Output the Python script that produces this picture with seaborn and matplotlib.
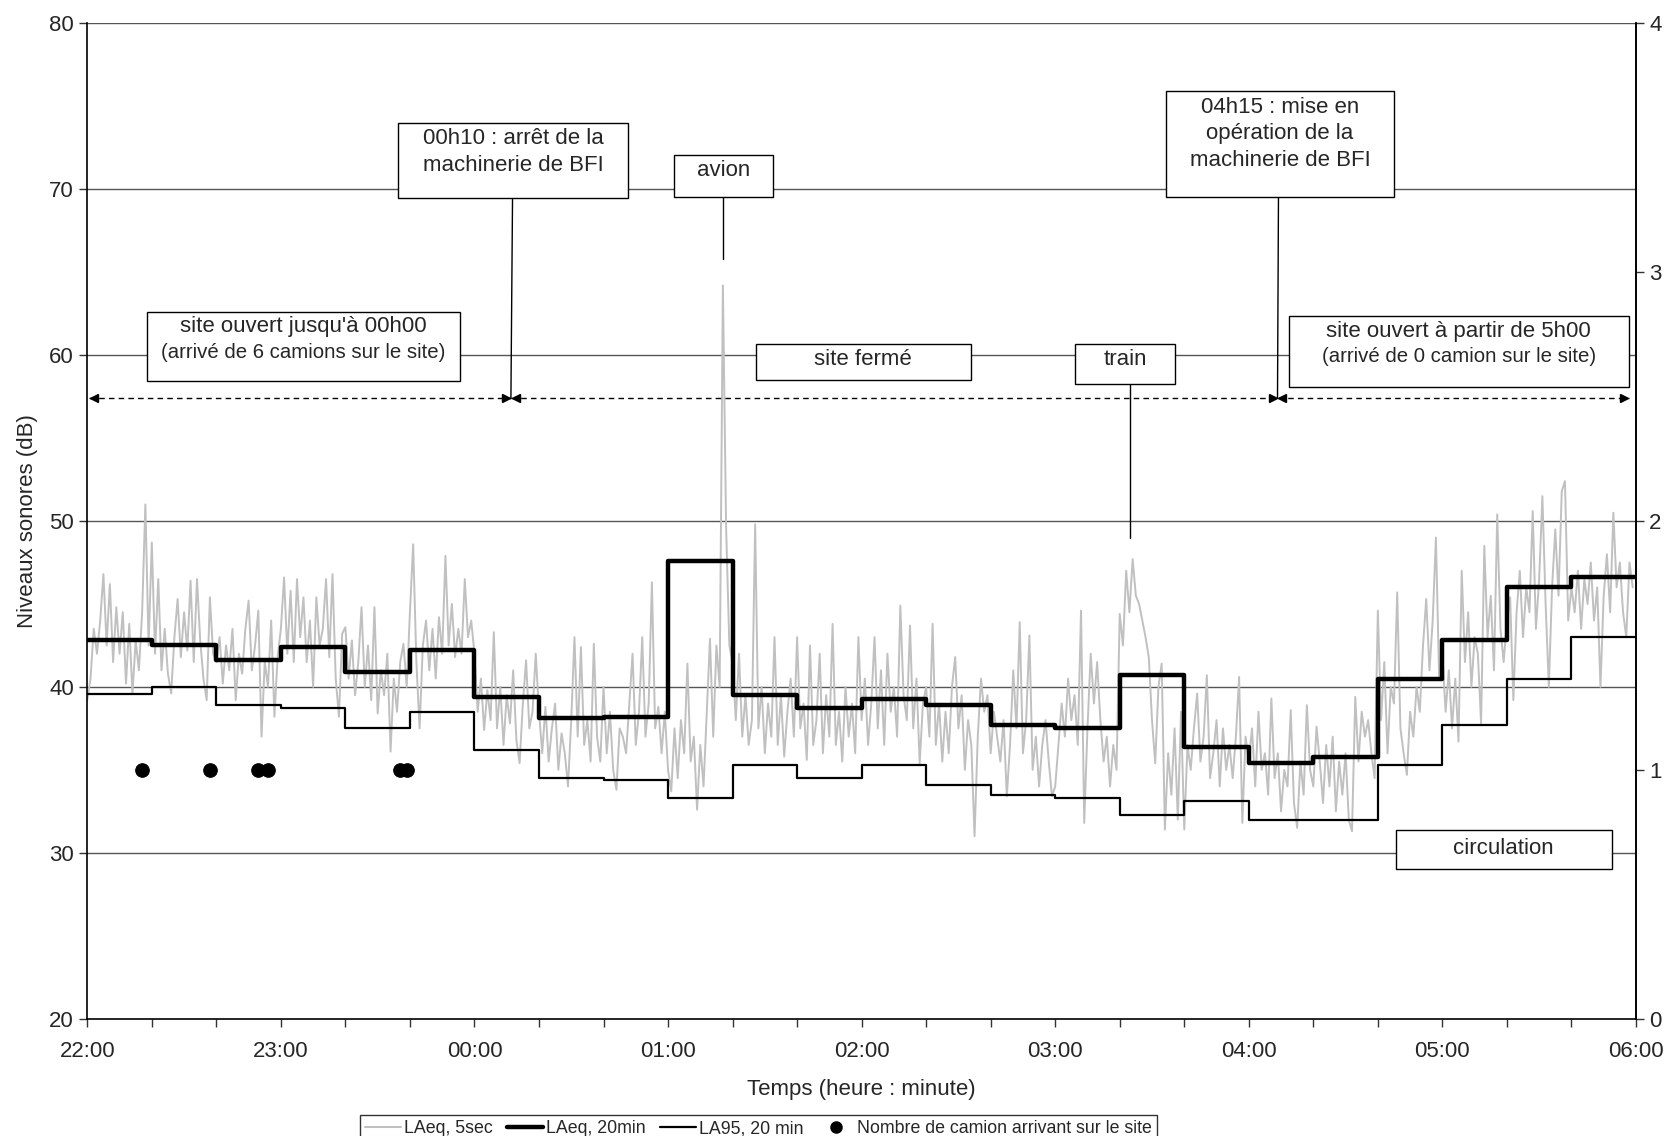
import numpy as np
import pandas as pd
import seaborn as sns
from matplotlib import pyplot as plt
from matplotlib.patches import Rectangle
from matplotlib.lines import Line2D

# time in minutes after 22:00
hour_labels = ["22:00", "23:00", "00:00", "01:00", "02:00", "03:00", "04:00", "05:00", "06:00"]

# LAeq 5 sec, read at ~1 min resolution (one row per 20 min block)
laeq_5s = [
    39.2, 40.5, 43.5, 42.0, 44.0, 46.8, 42.5, 46.2, 41.5, 44.8, 42.0, 44.5, 40.2, 43.8, 39.6, 42.8, 41.0, 44.5, 51.0, 42.5,
    48.7, 42.0, 46.5, 41.0, 43.5, 40.8, 39.6, 43.0, 45.3, 41.8, 44.5, 42.2, 46.4, 41.5, 46.5, 42.8, 40.5, 39.2, 45.4, 42.0,
    41.5, 43.0, 40.2, 42.5, 41.0, 43.5, 39.2, 42.0, 40.8, 43.5, 45.2, 41.0, 42.5, 44.6, 37.0, 41.5, 40.0, 44.0, 38.2, 41.8,
    43.5, 46.6, 42.0, 45.8, 41.5, 46.5, 43.0, 45.4, 41.5, 44.0, 40.0, 45.4, 42.5, 43.5, 46.5, 41.8, 46.8, 40.5, 38.2, 43.2,
    43.6, 40.5, 42.8, 39.5, 41.5, 44.8, 40.0, 42.5, 39.2, 44.8, 38.4, 41.0, 39.5, 42.0, 36.1, 40.5, 38.5, 41.5, 42.6, 40.0,
    44.5, 48.6, 41.5, 37.5, 42.5, 44.0, 41.0, 43.5, 40.5, 44.2, 42.0, 47.9, 42.5, 45.0, 41.8, 43.5, 42.0, 46.5, 43.0, 44.0,
    42.0, 38.5, 40.5, 37.4, 39.8, 38.0, 43.3, 37.5, 40.0, 36.5, 39.5, 37.8, 41.0, 36.8, 35.4, 39.0, 41.6, 37.5, 38.5, 42.0,
    38.5, 36.0, 38.8, 35.5, 37.5, 39.0, 35.0, 37.2, 36.0, 34.0, 38.0, 43.0, 37.0, 42.4, 36.5, 38.0, 35.5, 42.6, 37.0, 35.5,
    40.0, 36.0, 38.5, 35.0, 33.8, 37.5, 37.0, 36.0, 39.0, 42.0, 36.5, 38.5, 43.0, 37.0, 39.0, 46.3, 37.5, 38.8, 36.0, 38.5,
    35.0, 33.7, 37.5, 34.5, 38.0, 36.0, 41.4, 35.5, 37.0, 32.6, 36.5, 34.0, 38.5, 42.9, 37.0, 42.5, 40.0, 64.2, 49.6, 42.5,
    41.5, 38.0, 42.0, 37.0, 39.5, 36.5, 38.0, 49.8, 37.5, 40.0, 36.0, 39.0, 37.0, 43.0, 36.5, 39.5, 35.8, 38.5, 40.5, 37.0,
    43.0, 37.5, 39.0, 35.6, 42.5, 36.5, 38.0, 42.0, 36.0, 39.5, 37.0, 43.8, 36.5, 38.5, 35.5, 40.0, 37.0, 39.0, 36.0, 43.0,
    38.0, 40.5, 36.5, 39.0, 43.0, 37.5, 41.0, 36.5, 42.0, 38.5, 40.0, 37.0, 44.9, 39.5, 38.0, 43.7, 37.5, 40.5, 35.4, 39.0,
    40.0, 37.0, 43.8, 36.5, 39.0, 35.5, 38.5, 36.0, 40.0, 41.8, 37.5, 39.5, 35.0, 38.0, 36.5, 31.0, 37.0, 40.5, 38.5, 39.5,
    36.0, 38.5, 37.0, 35.5, 38.0, 33.4, 36.5, 41.0, 37.5, 43.9, 36.0, 38.0, 43.1, 35.0, 37.0, 34.0, 36.5, 38.0, 35.5, 33.4,
    34.0, 36.5, 39.0, 37.0, 40.5, 38.0, 39.5, 36.5, 44.6, 31.8, 37.5, 42.0, 39.0, 41.5, 38.0, 35.5, 37.0, 34.0, 36.5, 35.0,
    44.4, 42.5, 47.0, 44.5, 47.7, 45.5, 45.0, 44.0, 43.0, 41.8, 38.0, 35.4, 40.0, 41.4, 31.4, 36.0, 33.5, 37.5, 32.0, 38.5,
    31.4, 36.5, 35.0, 37.5, 39.6, 35.5, 37.0, 40.7, 34.5, 36.0, 38.0, 34.0, 37.5, 35.0, 36.5, 34.5, 37.0, 40.6, 31.8, 37.0,
    35.5, 37.5, 34.0, 38.5, 35.0, 36.0, 33.5, 39.3, 34.5, 36.0, 32.5, 35.0, 34.0, 38.6, 33.0, 31.5, 35.5, 33.5, 38.9, 35.0,
    34.0, 37.6, 35.5, 33.0, 36.5, 34.0, 37.0, 32.5, 35.5, 33.5, 36.0, 32.0, 31.3, 39.4, 35.5, 38.5, 37.0, 38.0, 36.0, 34.5,
    44.6, 38.0, 41.5, 36.0, 40.0, 39.0, 45.7, 37.5, 36.0, 34.7, 38.5, 37.0, 40.0, 38.5, 42.5, 45.3, 41.0, 44.0, 49.0, 40.5,
    42.0, 38.5, 41.0, 37.5, 40.5, 36.7, 47.0, 41.5, 44.5, 40.0, 43.0, 42.0, 37.8, 48.5, 43.0, 45.5, 41.0, 50.4, 43.5, 41.5,
    44.0, 45.4, 39.2, 44.5, 47.0, 43.0, 46.0, 44.5, 50.6, 43.5, 46.5, 51.5, 45.0, 40.0, 46.0, 49.5, 45.5, 51.8, 52.4, 44.0,
    46.0, 44.5, 47.0, 43.5, 46.5, 45.0, 47.5, 44.0, 46.0, 40.0, 45.5, 48.0, 44.5, 50.5, 46.0, 47.5, 44.5, 43.0, 47.5, 46.0,
]

# 20 min values
laeq_20min = [42.8, 42.5, 41.6, 42.4, 40.9, 42.2, 39.4, 38.1, 38.2, 47.6, 39.5, 38.7,
              39.3, 38.9, 37.7, 37.5, 40.7, 36.4, 35.4, 35.8, 40.5, 42.8, 46.0, 46.6]
la95_20min = [39.6, 40.0, 38.9, 38.7, 37.5, 38.5, 36.2, 34.5, 34.4, 33.3, 35.3, 34.5,
              35.3, 34.1, 33.5, 33.3, 32.3, 33.1, 32.0, 32.0, 35.3, 37.7, 40.5, 43.0]

# truck arrivals (minutes after 22:00, count on right axis)
truck_time = [17, 38, 53, 56, 97, 99]
truck_count = [1, 1, 1, 1, 1, 1]

sns.set_style("white")
plt.rcParams["font.family"] = ["Liberation Sans", "DejaVu Sans"]
FS = 16

fig = plt.figure(figsize=(16.69, 11.36), dpi=100)
ax = fig.add_axes([0.0523, 0.1033, 0.9279, 0.8761])

df5 = pd.DataFrame({"t": np.arange(len(laeq_5s)), "v": laeq_5s})
blocks = np.arange(0, 481, 20)
df20 = pd.DataFrame({"t": blocks, "laeq": laeq_20min + laeq_20min[-1:],
                     "la95": la95_20min + la95_20min[-1:]})

for y in range(30, 81, 10):
    ax.axhline(y, color="#555555", lw=1.0, zorder=0)

sns.lineplot(data=df5, x="t", y="v", ax=ax, color="#c0c0c0", lw=1.4, zorder=2)
sns.lineplot(data=df20, x="t", y="laeq", ax=ax, color="black", lw=3.2,
             drawstyle="steps-post", zorder=4)
sns.lineplot(data=df20, x="t", y="la95", ax=ax, color="black", lw=1.6,
             drawstyle="steps-post", zorder=4)

ax.set_xlim(0, 480)
ax.set_ylim(20, 80)
ax.set_xticks(np.arange(0, 481, 60))
ax.set_xticklabels(hour_labels)
ax.set_xticks(np.arange(0, 481, 20), minor=True)
ax.set_yticks(range(20, 81, 10))
ax.tick_params(axis="both", which="both", direction="out", length=6, width=1,
               color="#333333", labelsize=FS, bottom=True, left=True)
ax.tick_params(axis="x", pad=10)
ax.set_xlabel("Temps (heure : minute)", fontsize=FS, labelpad=12)
ax.set_ylabel("Niveaux sonores (dB)", fontsize=FS, labelpad=8)
for s in ["left", "bottom", "right"]:
    ax.spines[s].set_color("black")
    ax.spines[s].set_linewidth(1.2)
ax.spines["top"].set_visible(False)

ax2 = ax.twinx()
sns.scatterplot(x=truck_time, y=truck_count, ax=ax2, color="black", s=95,
                edgecolor="black", zorder=5)
ax2.set_ylim(0, 4)
ax2.set_yticks([0, 1, 2, 3, 4])
ax2.tick_params(axis="y", direction="out", length=6, width=1, color="#333333",
                labelsize=FS, right=True)
ax2.spines["right"].set_color("black")
ax2.spines["right"].set_linewidth(1.2)
ax2.spines["top"].set_visible(False)
ax2.spines["left"].set_visible(False)
ax2.spines["bottom"].set_visible(False)
ax2.set_ylabel("")

# annotation boxes: (x0, x1, y0, y1, text, text_y)
boxes = [
    (96.3, 167.6, 69.47, 73.97, "00h10 : arrêt de la\nmachinerie de BFI", 72.25),
    (181.8, 212.5, 69.54, 72.04, "avion", 71.15),
    (18.5, 115.5, 58.43, 62.6, "site ouvert jusqu'à 00h00\n(arrivé de 6 camions sur le site)", 60.95),
    (207.2, 273.8, 58.5, 60.68, "site fermé", 59.75),
    (306.2, 337.2, 58.24, 60.68, "train", 59.75),
    (334.2, 405.1, 69.54, 75.9, "04h15 : mise en\nopération de la\nmachinerie de BFI", 73.35),
    (372.5, 477.7, 58.1, 62.35, "site ouvert à partir de 5h00\n(arrivé de 0 camion sur le site)", 60.7),
    (405.5, 472.5, 29.04, 31.35, "circulation", 30.25),
]
for x0, x1, y0, y1, txt, ty in boxes:
    ax.add_patch(Rectangle((x0, y0), x1 - x0, y1 - y0, facecolor="white",
                           edgecolor="black", lw=1.0, zorder=6))
    lines = txt.split("\n")
    if len(lines) == 2 and lines[1].startswith("("):
        # second line in these boxes is a bit smaller
        ax.text((x0 + x1) / 2, ty + 0.75, lines[0], ha="center", va="center",
                fontsize=FS, zorder=7)
        ax.text((x0 + x1) / 2, ty - 0.78, lines[1], ha="center", va="center",
                fontsize=FS - 1.3, zorder=7)
    else:
        ax.text((x0 + x1) / 2, ty, txt, ha="center", va="center", fontsize=FS,
                linespacing=1.35, zorder=7)

# pointer lines
ax.plot([131.8, 131.3], [69.47, 57.4], color="black", lw=1.0, zorder=5)
ax.plot([197.0, 197.0], [69.54, 65.8], color="black", lw=1.0, zorder=5)
ax.plot([323.3, 323.3], [58.24, 49.0], color="black", lw=1.0, zorder=5)
ax.plot([369.2, 368.9], [69.54, 57.4], color="black", lw=1.0, zorder=5)

# dashed period arrows
for a, b in [(0.5, 131.3), (131.3, 368.9), (368.9, 477.7)]:
    ax.plot([a, b], [57.4, 57.4], color="black", lw=1.0, ls=(0, (4, 3)), zorder=5)
    ax.plot([a + 1.5], [57.4], marker="<", color="black", ms=6, zorder=5)
    ax.plot([b - 1.5], [57.4], marker=">", color="black", ms=6, zorder=5)

handles = [
    Line2D([], [], color="#c0c0c0", lw=1.5),
    Line2D([], [], color="black", lw=3.2),
    Line2D([], [], color="black", lw=1.6),
    Line2D([], [], color="black", marker="o", ls="", ms=8),
]
labels = ["LAeq, 5sec", "LAeq, 20min", "LA95, 20 min", "Nombre de camion arrivant sur le site"]
leg = fig.legend(handles, labels, loc="lower center", bbox_to_anchor=(0.4545, -0.006),
                 ncol=4, fontsize=12.8, frameon=True, fancybox=False, edgecolor="black",
                 handlelength=2.0, handletextpad=0.2, columnspacing=0.8,
                 borderpad=0.3, borderaxespad=0)
leg.get_frame().set_linewidth(1.0)

fig.savefig("out.png", dpi=100)
